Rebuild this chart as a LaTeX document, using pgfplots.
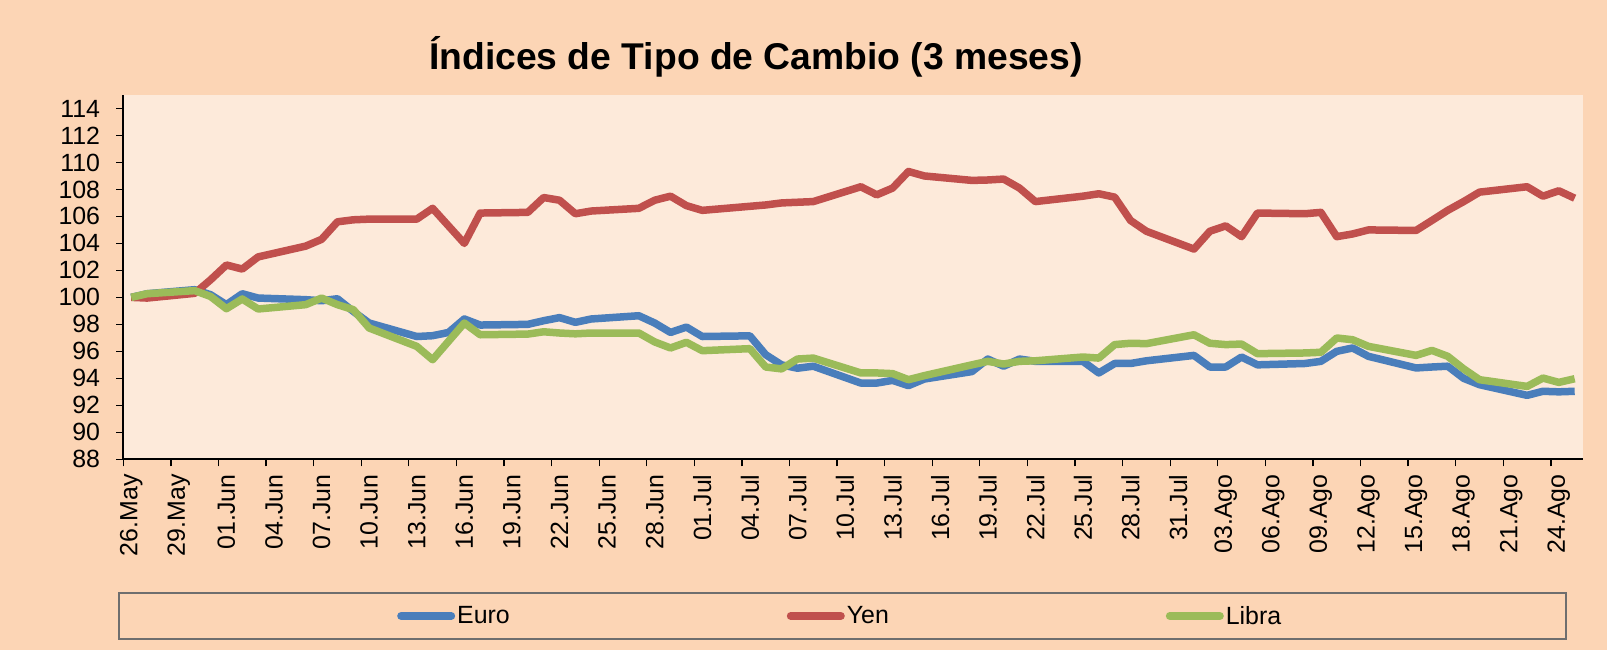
\documentclass[border=0pt]{standalone}
\usepackage{pgfplots}
\pgfplotsset{compat=1.18}
\usepackage{pgfplotstable}
\usepackage{fontspec}
\setmainfont{Liberation Sans}
\definecolor{bgpeach}{RGB}{252,213,181}
\definecolor{plotbg}{RGB}{253,234,218}
\definecolor{euro}{RGB}{74,126,187}
\definecolor{yen}{RGB}{192,80,77}
\definecolor{libra}{RGB}{155,187,89}
\definecolor{legbox}{RGB}{110,110,110}

\pgfplotstableread{
d euro yen libra
0 100.00 100.00 100.00
1 100.27 99.95 100.27
4 100.57 100.30 100.50
5 100.20 101.30 100.07
6 99.46 102.40 99.16
7 100.27 102.10 99.88
8 99.95 103.00 99.14
11 99.83 103.80 99.46
12 99.75 104.30 99.95
13 99.90 105.60 99.46
14 98.96 105.75 99.09
15 98.10 105.80 97.73
18 97.10 105.80 96.37
19 97.16 106.60 95.38
20 97.40 105.30 96.74
21 98.40 104.00 98.10
22 97.95 106.25 97.23
25 98.00 106.30 97.28
26 98.27 107.40 97.45
27 98.50 107.20 97.36
28 98.15 106.20 97.30
29 98.40 106.40 97.36
32 98.64 106.60 97.36
33 98.10 107.20 96.70
34 97.40 107.50 96.25
35 97.80 106.80 96.67
36 97.10 106.45 96.05
39 97.15 106.75 96.20
40 95.75 106.85 94.84
41 95.00 107.00 94.70
42 94.75 107.05 95.43
43 94.90 107.10 95.50
46 93.65 108.20 94.40
47 93.65 107.60 94.40
48 93.85 108.10 94.35
49 93.46 109.33 93.90
50 93.95 109.00 94.20
53 94.50 108.67 95.00
54 95.43 108.70 95.26
55 94.90 108.77 95.06
56 95.43 108.10 95.26
57 95.26 107.10 95.30
60 95.26 107.50 95.58
61 94.40 107.68 95.50
62 95.10 107.43 96.50
63 95.10 105.70 96.60
64 95.30 104.90 96.57
67 95.70 103.58 97.23
68 94.84 104.90 96.60
69 94.84 105.30 96.50
70 95.58 104.50 96.54
71 95.00 106.25 95.83
74 95.10 106.20 95.88
75 95.26 106.30 95.93
76 96.00 104.50 96.99
77 96.25 104.70 96.86
78 95.63 105.00 96.37
81 94.77 104.96 95.70
82 94.84 105.70 96.07
83 94.90 106.45 95.63
84 94.00 107.10 94.70
85 93.53 107.80 93.90
88 92.74 108.20 93.40
89 93.04 107.50 94.02
90 93.00 107.90 93.70
91 93.04 107.35 93.97
}\datatable

\begin{document}
\begin{tikzpicture}[x=1bp,y=1bp]
\fill[bgpeach] (0,0) rectangle (1607,650);
\useasboundingbox (0,0) rectangle (1607,650);
\node[anchor=base west, inner sep=0pt, font=\fontsize{37.4}{40}\selectfont\bfseries] at (429,580) {Índices de Tipo de Cambio (3 meses)};
\draw[legbox, line width=2bp] (119,11) rectangle (1566,56.7);
\begin{axis}[
  at={(123.3bp,190.7bp)}, anchor=south west, scale only axis,
  width=1459.4bp, height=364.3bp,
  xmin=0, xmax=92, ymin=88, ymax=115,
  axis background/.style={fill=plotbg},
  axis x line=bottom, axis y line=left,
  axis line style={-, line width=2bp, black},
  tick align=outside, major tick length=7bp,
  tick style={black, line width=1.3bp},
  ytick={88,90,...,114},
  xtick={0,3,...,90},
  xticklabels={},
  extra x ticks={0.5,3.5,6.5,9.5,12.5,15.5,18.5,21.5,24.5,27.5,30.5,33.5,36.5,39.5,42.5,45.5,48.5,51.5,54.5,57.5,60.5,63.5,66.5,69.5,72.5,75.5,78.5,81.5,84.5,87.5,90.5},
  extra x tick labels={26.May,29.May,01.Jun,04.Jun,07.Jun,10.Jun,13.Jun,16.Jun,19.Jun,22.Jun,25.Jun,28.Jun,01.Jul,04.Jul,07.Jul,10.Jul,13.Jul,16.Jul,19.Jul,22.Jul,25.Jul,28.Jul,31.Jul,03.Ago,06.Ago,09.Ago,12.Ago,15.Ago,18.Ago,21.Ago,24.Ago},
  extra x tick style={major tick length=0pt, tick style={draw=none}},
  xticklabel style={rotate=90, anchor=east, inner sep=0pt, font=\fontsize{25}{25}\selectfont},
  xticklabel shift=15bp,
  yticklabel style={anchor=east, inner sep=0pt, font=\fontsize{25}{25}\selectfont},
  yticklabel shift=16bp,
  /pgf/number format/assume math mode=true,
  legend columns=3,
  legend style={at={(rel axis cs:0.1855,-0.430)}, anchor=west, draw=none, fill=none,
    font=\fontsize{25}{25}\selectfont, nodes={inner sep=2bp},
    /tikz/every even column/.append style={column sep=275bp}},
  legend image code/.code={\draw[#1, line width=8bp, line cap=round] (0bp,0bp) -- (50bp,0bp);},
]
\addplot[euro, line width=7.5bp, line join=round] table[x expr=\thisrow{d}+0.5, y=euro] {\datatable};
\addlegendentry{Euro}
\addplot[yen, line width=7.5bp, line join=round] table[x expr=\thisrow{d}+0.5, y=yen] {\datatable};
\addlegendentry{Yen}
\addplot[libra, line width=7.5bp, line join=round] table[x expr=\thisrow{d}+0.5, y=libra] {\datatable};
\addlegendentry{Libra}
\end{axis}
\end{tikzpicture}
\end{document}
